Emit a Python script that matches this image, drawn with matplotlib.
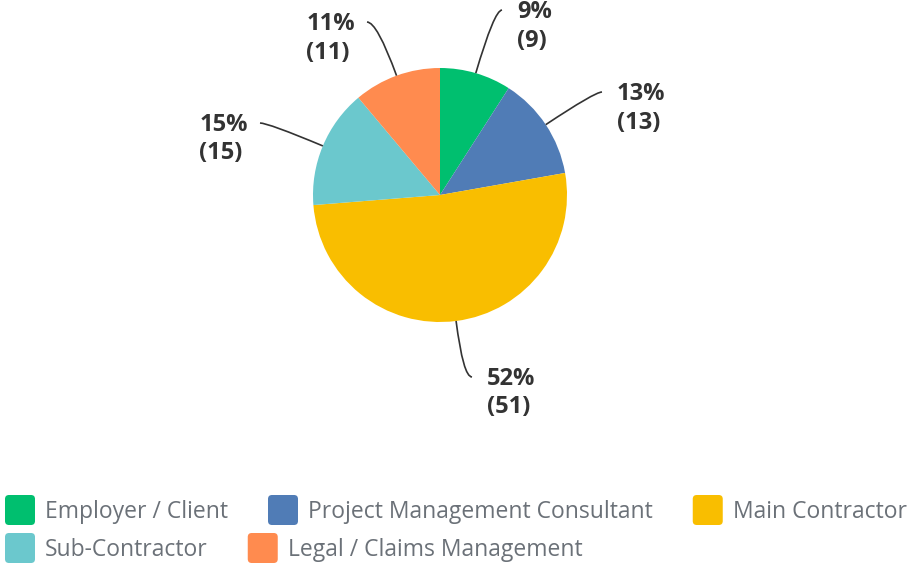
import numpy as np
import matplotlib.pyplot as plt
from matplotlib.patches import FancyBboxPatch
from matplotlib.path import Path
from matplotlib.patches import PathPatch

# data
categories = ['Employer / Client', 'Project Management Consultant',
              'Main Contractor', 'Sub-Contractor', 'Legal / Claims Management']
counts = [9, 13, 51, 15, 11]
colors = ['#00BF6F', '#507CB6', '#F9BE00', '#6BC8CD', '#FF8B4F']

# layout (pixel coords, y down)
center = (440, 195)
radius = 127
# where each leader line ends, and which side the text sits on
label_ends = [(502, 10), (602, 92), (472, 377), (260, 123), (367, 22)]
label_side = ['right', 'right', 'right', 'left', 'left']
legend_rows = [[0, 1, 2], [3, 4]]
legend_row_y = [510, 548]

W, H = 911, 566
fig = plt.figure(figsize=(W / 100, H / 100), dpi=100)
ax = fig.add_axes([0, 0, 1, 1])

# y is inverted so angles run the other way: start at top, go clockwise on screen
wedges, _ = ax.pie(counts, colors=colors, startangle=-90, counterclock=True,
                   center=center, radius=radius,
                   wedgeprops=dict(linewidth=0))
ax.set_xlim(0, W)
ax.set_ylim(H, 0)
ax.set_aspect('auto')
ax.axis('off')

total = sum(counts)
label_font = dict(family=['Open Sans', 'DejaVu Sans'], fontsize=17,
                  fontweight='bold', color='#333333')
for w, n, (ex, ey), side in zip(wedges, counts, label_ends, label_side):
    mid = np.deg2rad((w.theta1 + w.theta2) / 2)
    d = np.array([np.cos(mid), np.sin(mid)])
    p0 = np.array(center) + radius * d
    # control point: radial ray meets the horizontal through the end point
    t = (ey - p0[1]) / d[1] if abs(d[1]) > 1e-6 else 40
    ctrl = p0 + t * d
    path = Path([p0, ctrl, (ex, ey)], [Path.MOVETO, Path.CURVE3, Path.CURVE3])
    ax.add_patch(PathPatch(path, facecolor='none', edgecolor='#333333',
                           linewidth=1.2))
    txt = f'{round(n / total * 100)}%\n({n})'
    if side == 'right':
        ax.text(ex + 15, ey - 10, txt, ha='left', va='top',
                multialignment='left', linespacing=1.25, **label_font)
    else:
        ax.text(ex - 12, ey - 10, txt, ha='right', va='top',
                multialignment='left', linespacing=1.25, **label_font)

# legend, flowed left to right
renderer = fig.canvas.get_renderer()
for row, y in zip(legend_rows, legend_row_y):
    x = 5
    for i in row:
        ax.add_patch(FancyBboxPatch((x, y - 15), 30, 30,
                                    boxstyle='round,pad=0,rounding_size=4',
                                    facecolor=colors[i], edgecolor='none'))
        t = ax.text(x + 40, y + 2, categories[i], ha='left', va='center',
                    fontsize=16.5, color='#6B7178',
                    family=['Open Sans', 'DejaVu Sans'])
        bb = t.get_window_extent(renderer)
        x = x + 40 + bb.width + 40

fig.savefig('out.png', dpi=100)
